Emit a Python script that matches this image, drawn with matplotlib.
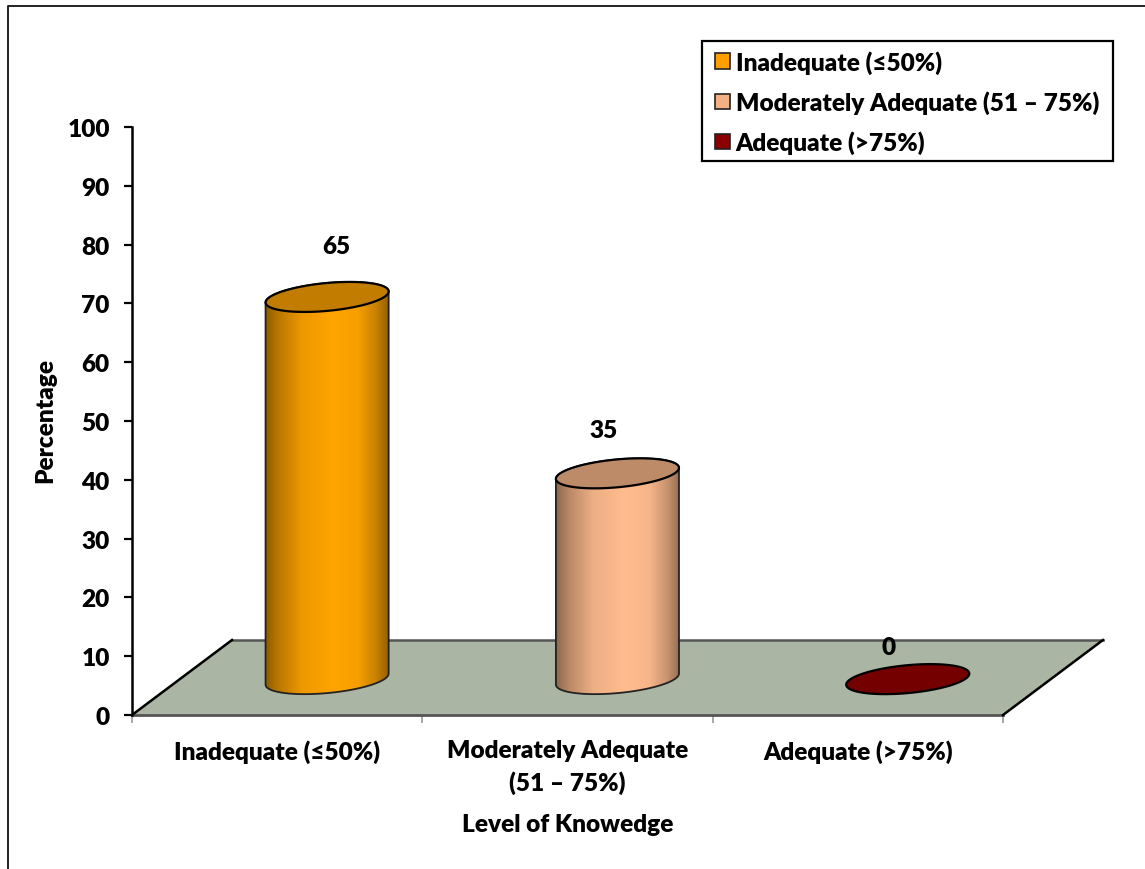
import numpy as np
import matplotlib
matplotlib.use('Agg')
import matplotlib.pyplot as plt
from matplotlib.colors import LinearSegmentedColormap, to_rgb
from matplotlib.lines import Line2D
from matplotlib.patches import Patch, Polygon, Rectangle

categories = ['Inadequate (≤50%)', 'Moderately Adequate\n(51 – 75%)', 'Adequate (>75%)']
legend_labels = ['Inadequate (≤50%)', 'Moderately Adequate (51 – 75%)', 'Adequate (>75%)']
values = [65, 35, 0]
yticks = [0, 10, 20, 30, 40, 50, 60, 70, 80, 90, 100]

colors = ['#FFA400', '#FFBC8E', '#8A0000']
top_colors = ['#C27C00', '#BE8B69', '#750000']
legend_colors = ['#FFA000', '#F4B183', '#8A0000']
label_offsets = [(9, 51), (-14, 43), (-19, 32)]  # px, labels were hand placed

plt.rcParams['font.family'] = ['Lato', 'DejaVu Sans']
plt.rcParams['font.weight'] = 'heavy'
FS = 17.6

W, H = 1145, 870
fig = plt.figure(figsize=(W/100, H/100), dpi=100)
ax = fig.add_axes([132/W, 1-716/H, (1003-132)/W, (716-128)/H])
ax.set_xlim(0, 3)
ax.set_ylim(0, 100)

# px per data unit
sx = (1003-132)/3
sy = (716-128)/100

# floor
depth_x = 100/sx
depth_y = 75/sy
floor = Polygon([(0, 0), (depth_x, depth_y), (3+depth_x, depth_y), (3, 0)], closed=True,
                fc='#ABB5A3', ec='none', clip_on=False, zorder=1)
ax.add_patch(floor)
ax.plot([0, 3], [0, 0], color='#555555', lw=2, clip_on=False, zorder=2)
ax.plot([depth_x, 3+depth_x], [depth_y, depth_y], color='#555555', lw=1.8, clip_on=False, zorder=2)
ax.plot([0, depth_x], [0, depth_y], color='black', lw=1.8, clip_on=False, zorder=2)
ax.plot([3, 3+depth_x], [0, depth_y], color='black', lw=1.8, clip_on=False, zorder=2)

# cylinders
A, B, PHI = 61.8, 13.9, np.radians(5.4)
BASE = 6.1
SHIFT = 0.172


def ell(cx, cy, t):
    px = A*np.cos(t)*np.cos(PHI) - B*np.sin(t)*np.sin(PHI)
    py = A*np.cos(t)*np.sin(PHI) + B*np.sin(t)*np.cos(PHI)
    return np.column_stack([cx + px/sx, cy + py/sy])


t0 = np.arctan2(-B*np.sin(PHI), A*np.cos(PHI))
upper = np.linspace(t0, t0+np.pi, 80)
lower = np.linspace(t0+np.pi, t0+2*np.pi, 80)
ramp_pos = [0, 0.1, 0.3, 0.55, 0.75, 0.9, 1]
ramp_mul = [0.55, 0.72, 0.93, 1, 0.97, 0.78, 0.58]

for i, v in enumerate(values):
    cx = i + 0.5 + SHIFT
    top = v + BASE
    outline = np.vstack([ell(cx, top, upper), ell(cx, BASE, lower)])
    if v > 0:
        rgb = np.array(to_rgb(colors[i]))
        cmap = LinearSegmentedColormap.from_list(
            'c%d' % i, [(p, tuple(rgb*m)) for p, m in zip(ramp_pos, ramp_mul)])
        half = A/sx
        im = ax.imshow(np.linspace(0, 1, 256).reshape(1, -1), cmap=cmap, aspect='auto',
                       extent=[cx-half, cx+half, BASE-3, top+3], zorder=3)
        body = Polygon(outline, closed=True, fc='none', ec='#222222', lw=1.3, clip_on=False, zorder=4)
        ax.add_patch(body)
        im.set_clip_path(body)
    cap = Polygon(ell(cx, top, np.linspace(0, 2*np.pi, 160)), closed=True, fc=top_colors[i],
                  ec='black', lw=1.6, clip_on=False, zorder=5)
    ax.add_patch(cap)
    ax.annotate(str(v), (cx, top), xytext=label_offsets[i], textcoords='offset pixels',
                ha='center', va='center', fontsize=FS, color='black', zorder=6)

ax.set_xlim(0, 3)
ax.set_ylim(0, 100)

# axes
for s in ['top', 'right', 'bottom']:
    ax.spines[s].set_visible(False)
ax.spines['left'].set_linewidth(1.8)
ax.patch.set_alpha(0)
ax.set_yticks(yticks)
ax.tick_params(axis='y', length=6, width=1.6, pad=10, labelsize=FS)
ax.set_xticks([0, 1, 2, 3])
ax.set_xticklabels([])
ax.tick_params(axis='x', length=6, width=1.2, color='#999999')
ax.set_xticks([0.5, 1.5, 2.5], labels=categories, minor=True, fontsize=FS, linespacing=1.45)
ax.tick_params(axis='x', which='minor', length=0, pad=17.5)
ax.set_xlabel('Level of Knowedge', fontsize=FS, fontweight='heavy')
ax.xaxis.set_label_coords(0.5, -0.167)
ax.set_ylabel('Percentage', fontsize=FS, fontweight='heavy')
ax.yaxis.set_label_coords(-0.087, 0.502)

# legend, box drawn apart so its padding can differ from the row padding
fig.add_artist(Rectangle((702/W, 1-162/H), 411/W, 120/H, transform=fig.transFigure,
                         fc='white', ec='black', lw=1.6))
handles = [Patch(fc=c, ec='#222222', lw=1.2) for c in legend_colors]
leg = fig.legend(handles, legend_labels, loc='upper left', bbox_to_anchor=(715/W, 1-51/H),
                 bbox_transform=fig.transFigure, fontsize=FS, frameon=False,
                 handlelength=0.6, handleheight=0.6, handletextpad=0.25,
                 borderpad=0, labelspacing=0.68, borderaxespad=0)

# picture frame
fig.add_artist(Line2D([8/W, 8/W, 1], [0, 1-7/H, 1-7/H], color='#222222', lw=1.4))

fig.savefig('out.png', dpi=100)
